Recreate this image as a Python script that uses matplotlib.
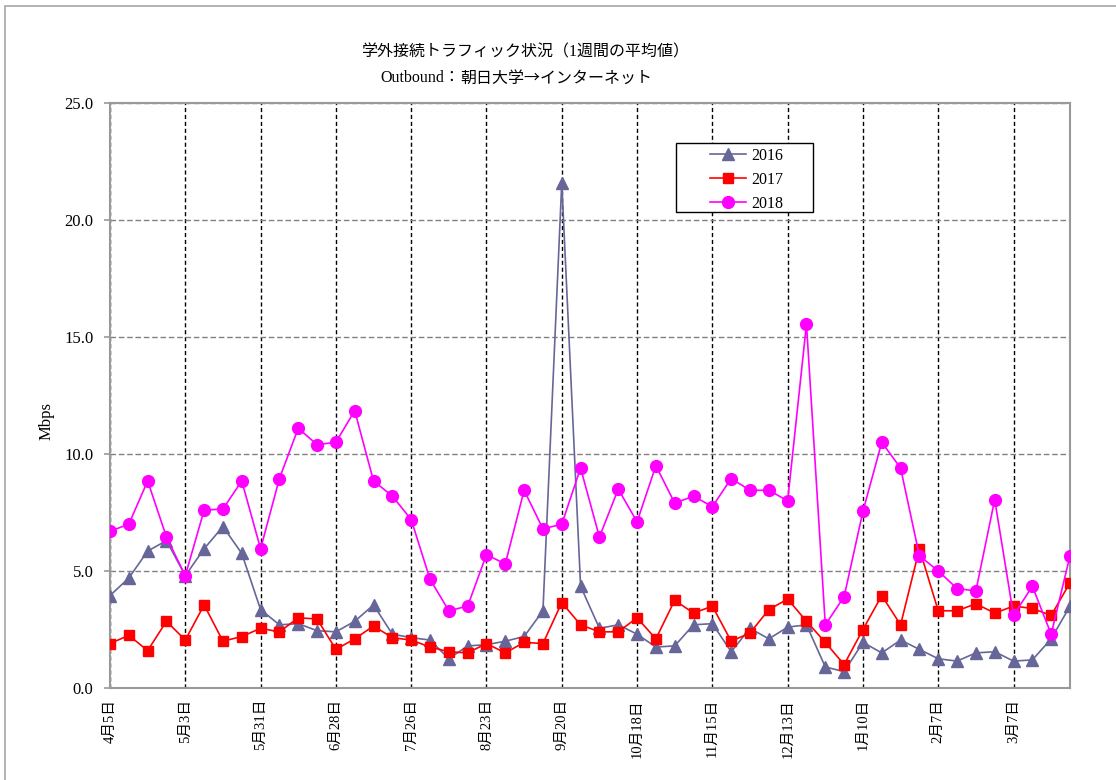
import matplotlib
matplotlib.use("Agg")
import matplotlib.pyplot as plt
from matplotlib.patches import Rectangle
from matplotlib.ticker import FormatStrFormatter

# ──────────────────────────────────────────────────────────────────────
# DATA (weekly average, Mbps)
# ──────────────────────────────────────────────────────────────────────
week_labels = ["4月5日", "5月3日", "5月31日", "6月28日", "7月26日", "8月23日",
               "9月20日", "10月18日", "11月15日", "12月13日", "1月10日",
               "2月7日", "3月7日"]

mbps_2016 = [3.95, 4.7, 5.85, 6.3, 4.8, 5.95, 6.9, 5.75, 3.35, 2.7,
             2.75, 2.45, 2.4, 2.85, 3.55, 2.3, 2.15, 2.05, 1.25, 1.8,
             1.85, 2.0, 2.2, 3.3, 21.6, 4.35, 2.55, 2.7, 2.3, 1.75,
             1.8, 2.7, 2.75, 1.55, 2.55, 2.1, 2.6, 2.7, 0.9, 0.7,
             1.95, 1.5, 2.05, 1.65, 1.25, 1.15, 1.5, 1.55, 1.15, 1.2,
             2.1, 3.5]
mbps_2017 = [1.9, 2.25, 1.6, 2.85, 2.05, 3.55, 2.0, 2.2, 2.55, 2.4,
             3.0, 2.95, 1.65, 2.1, 2.65, 2.15, 2.05, 1.75, 1.55, 1.5,
             1.9, 1.5, 1.95, 1.9, 3.65, 2.7, 2.4, 2.4, 3.0, 2.1,
             3.75, 3.2, 3.5, 2.0, 2.35, 3.35, 3.8, 2.85, 1.95, 1.0,
             2.5, 3.95, 2.7, 5.95, 3.3, 3.3, 3.6, 3.2, 3.5, 3.4,
             3.1, 4.5]
mbps_2018 = [6.7, 7.0, 8.85, 6.45, 4.8, 7.6, 7.65, 8.85, 5.95, 8.95,
             11.1, 10.4, 10.5, 11.85, 8.85, 8.2, 7.2, 4.65, 3.3, 3.5,
             5.7, 5.3, 8.45, 6.8, 7.0, 9.4, 6.45, 8.5, 7.1, 9.5,
             7.9, 8.2, 7.75, 8.95, 8.45, 8.45, 8.0, 15.55, 2.7, 3.9,
             7.55, 10.5, 9.4, 5.65, 5.0, 4.25, 4.15, 8.05, 3.1, 4.35,
             2.3, 5.65]

FONT = ["Liberation Serif", "Noto Sans CJK JP"]
CJK = ["Noto Sans CJK JP", "Liberation Serif"]
plt.rcParams["font.family"] = FONT

weeks = list(range(len(mbps_2016)))

fig = plt.figure(figsize=(11.16, 7.8), dpi=100)
ax = fig.add_axes([110 / 1116, 1 - 688 / 780, 960 / 1116, 585 / 780])

# outer chart-area border (cut off at right/bottom like the original)
fig.patches.append(Rectangle((5 / 1116, -0.1), 1.2, 1 - 6 / 780 + 0.1,
                             transform=fig.transFigure, fill=False,
                             edgecolor="#a6a6a6", linewidth=1.2))

series = [
    ("2016", mbps_2016, "#666699", "^", 9.0),
    ("2017", mbps_2017, "#ff0000", "s", 7.0),
    ("2018", mbps_2018, "#ff00ff", "o", 8.5),
]
for label, vals, color, marker, ms in series:
    ax.plot(weeks, vals, color=color, linewidth=1.2, marker=marker,
            markersize=ms, markerfacecolor=color, markeredgecolor=color,
            label=label, zorder=3)

# axes formatting
ax.set_xlim(0, len(weeks) - 1)
ax.set_ylim(0, 25)
ax.set_yticks([0, 5, 10, 15, 20, 25])
ax.yaxis.set_major_formatter(FormatStrFormatter("%.1f"))
ax.set_xticks(weeks[::4])
ax.set_xticklabels(week_labels, rotation=90, fontsize=10.5, va="top", ha="center")

ax.set_axisbelow(True)
ax.xaxis.grid(True, color="black", linestyle=(0, (3, 2)), linewidth=1.0)
ax.yaxis.grid(True, color="#808080", linestyle=(0, (4, 2)), linewidth=1.0)

for sp in ax.spines.values():
    sp.set_color("#999999")
    sp.set_linewidth(1.5)

ax.tick_params(axis="y", length=4, width=1.2, color="#999999", pad=8, labelsize=12)
ax.tick_params(axis="x", length=0, pad=8)

fig.text(47 / 1116, 1 - 421 / 780, "Mbps", rotation=90, fontsize=12,
         ha="center", va="center")

# titles
fig.text(525 / 1116, 1 - 52 / 780, "学外接続トラフィック状況（1週間の平均値）",
         fontsize=11.5, ha="center", va="center")
t2 = fig.text(420 / 1116, 1 - 78 / 780, "Outbound：", fontsize=11.5,
              ha="center", va="center")
ax.annotate("朝日大学→インターネット", xy=(1, 0.5), xycoords=t2,
            fontsize=11.5, family=CJK, ha="left", va="center",
            annotation_clip=False)

# legend with a hand-sized frame
x0, x1 = (676 - 110) / 960, (813 - 110) / 960
y0, y1 = (688 - 212) / 585, (688 - 143) / 585
ax.add_patch(Rectangle((x0, y0), x1 - x0, y1 - y0, transform=ax.transAxes,
                       facecolor="white", edgecolor="black", linewidth=1.0,
                       zorder=4))
ax.legend(loc="center", bbox_to_anchor=((x0 + x1) / 2 + 0.002, (y0 + y1) / 2 - 0.004),
          frameon=False, fontsize=11.5, handlelength=2.3, handletextpad=0.3,
          labelspacing=0.5).set_zorder(5)

fig.savefig("out.png", dpi=100)
